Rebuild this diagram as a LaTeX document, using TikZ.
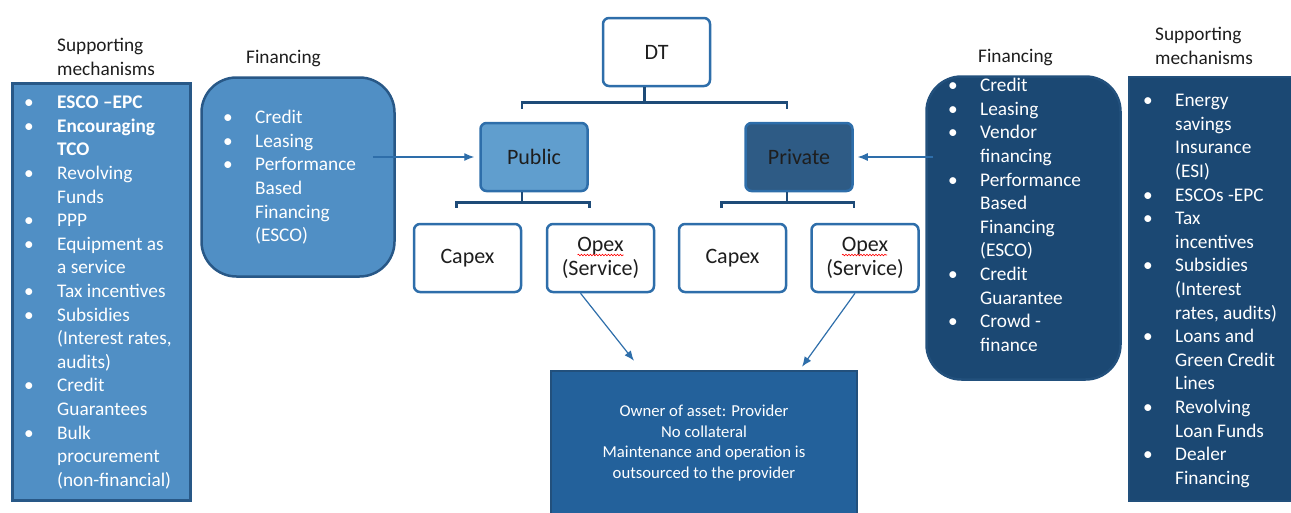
\documentclass[tikz,border=0pt]{standalone}
\usepackage{fontspec}
\setmainfont{Carlito}
\usetikzlibrary{arrows.meta,decorations.pathmorphing}

\definecolor{ink}{RGB}{30,30,30}
\definecolor{midblue}{RGB}{80,143,197}
\definecolor{midline}{RGB}{40,88,135}
\definecolor{pubfill}{RGB}{96,158,206}
\definecolor{privfill}{RGB}{46,91,133}
\definecolor{navy}{RGB}{27,72,115}
\definecolor{navyline}{RGB}{34,80,124}
\definecolor{outfill}{RGB}{35,97,155}
\definecolor{boxline}{RGB}{46,110,170}
\definecolor{treeline}{RGB}{30,75,120}

\newcommand{\lstfont}{\fontsize{19.3}{23.6}\selectfont}

\tikzset{
  box/.style={draw=boxline, line width=2.5pt, rounded corners=6pt, fill=white,
    text=ink, align=center, font=\fontsize{22}{24}\selectfont,
    minimum width=107pt, minimum height=68pt, inner sep=0pt},
  panel/.style={line width=2.5pt, inner sep=0pt},
  tree/.style={draw=treeline, line width=2.8pt},
  link/.style={draw=boxline, line width=1.2pt, -{Latex[length=10pt,width=8pt]}},
  list/.style={text=white, font=\lstfont, anchor=north west, inner sep=0pt},
  head/.style={text=ink, font=\lstfont, anchor=north west, inner sep=0pt},
  squig/.style={draw=red, line width=0.6pt, decorate,
    decoration={snake, amplitude=0.8pt, segment length=3pt}}
}

\begin{document}
\begin{tikzpicture}[x=1pt,y=-1pt]
  \useasboundingbox (0,0) rectangle (1291,512);

  % panels
  \node[panel, fill=midblue, draw=midline, minimum width=178pt, minimum height=417pt] (supL) at (101.5,292) {};
  \node[panel, fill=midblue, draw=midline, rounded corners=35pt, minimum width=193pt, minimum height=199pt] (finL) at (298,177) {};
  \node[panel, fill=navy, draw=navyline, rounded corners=35pt, minimum width=194pt, minimum height=303pt] (finR) at (1023.5,228) {};
  \node[panel, fill=navy, draw=navyline, minimum width=171pt, minimum height=424pt] (supR) at (1214.5,289) {};
  \node[panel, fill=outfill, draw=navyline, minimum width=306pt, minimum height=144pt, text=white, align=center,
    font=\fontsize{16.7}{20.7}\selectfont] (out) at (704,443)
    {Owner of asset: Provider\\No collateral\\Maintenance and operation is\\outsourced to the provider};

  % headings
  \node[head] (supLhead) at (57,35) {\begin{tabular}{@{}l@{}}Supporting\\mechanisms\end{tabular}};
  \node[head] (finLhead) at (246,50) {Financing};
  \node[head] (finRhead) at (978,49) {Financing};
  \node[head] (supRhead) at (1155,24) {\begin{tabular}{@{}l@{}}Supporting\\mechanisms\end{tabular}};

  % lists
  \node[list] (supLtxt) at (24,92) {\begin{tabular}{@{}p{33pt}@{}l@{}}
    \textbullet & \textbf{ESCO –EPC}\\
    \textbullet & \textbf{Encouraging}\\
                & \textbf{TCO}\\
    \textbullet & Revolving\\
                & Funds\\
    \textbullet & PPP\\
    \textbullet & Equipment as\\
                & a service\\
    \textbullet & Tax incentives\\
    \textbullet & Subsidies\\
                & (Interest rates,\\
                & audits)\\
    \textbullet & Credit\\
                & Guarantees\\
    \textbullet & Bulk\\
                & procurement\\
                & (non-financial)
  \end{tabular}};
  \node[list] (finLtxt) at (223,107) {\begin{tabular}{@{}p{32pt}@{}l@{}}
    \textbullet & Credit\\
    \textbullet & Leasing\\
    \textbullet & Performance\\
                & Based\\
                & Financing\\
                & (ESCO)
  \end{tabular}};
  \node[list] (finRtxt) at (948,75) {\begin{tabular}{@{}p{32pt}@{}l@{}}
    \textbullet & Credit\\
    \textbullet & Leasing\\
    \textbullet & Vendor\\
                & financing\\
    \textbullet & Performance\\
                & Based\\
                & Financing\\
                & (ESCO)\\
    \textbullet & Credit\\
                & Guarantee\\
    \textbullet & Crowd -\\
                & finance
  \end{tabular}};
  \node[list] (supRtxt) at (1143,90) {\begin{tabular}{@{}p{32pt}@{}l@{}}
    \textbullet & Energy\\
                & savings\\
                & Insurance\\
                & (ESI)\\
    \textbullet & ESCOs -EPC\\
    \textbullet & Tax\\
                & incentives\\
    \textbullet & Subsidies\\
                & (Interest\\
                & rates, audits)\\
    \textbullet & Loans and\\
                & Green Credit\\
                & Lines\\
    \textbullet & Revolving\\
                & Loan Funds\\
    \textbullet & Dealer\\
                & Financing
  \end{tabular}};

  % tree
  \node[box] (dt) at (656.5,52) {DT};
  \node[box, fill=pubfill] (pub) at (534,157) {Public};
  \node[box, fill=privfill] (priv) at (799,157) {Private};
  \node[box] (cap1) at (467.5,258) {Capex};
  \node[box] (op1) at (600.5,258) {Opex\\(Service)};
  \node[box] (cap2) at (732.5,258) {Capex};
  \node[box] (op2) at (865,258) {Opex\\(Service)};

  \draw[tree] ([xshift=-12pt]dt.south) -- ++(0,15) coordinate (dtfork);
  \draw[tree] ([xshift=-12pt,yshift=13pt]pub.north) |- (dtfork) -| ([xshift=-12pt,yshift=13pt]priv.north);
  \draw[tree] ([xshift=-12pt]pub.south) -- ++(0,10) coordinate (pubfork);
  \draw[tree] ([xshift=-11pt,yshift=15pt]cap1.north) |- (pubfork) -| ([xshift=-11pt,yshift=15pt]op1.north);
  \draw[tree] ([xshift=-12pt]priv.south) -- ++(0,10) coordinate (privfork);
  \draw[tree] ([xshift=-11pt,yshift=15pt]cap2.north) |- (privfork) -| ([xshift=-11pt,yshift=15pt]op2.north);

  \draw[squig] ([shift={(-23pt,3pt)}]op1.center) -- ++(46,0);
  \draw[squig] ([shift={(-23pt,3pt)}]op2.center) -- ++(45,0);

  % links
  \draw[link, shorten >=5pt] ([xshift=-23pt]finL.east |- pub.west) -- (pub.west);
  \draw[link, shorten >=4pt] ([xshift=8pt]finR.west |- priv.east) -- (priv.east);
  \draw[link] ([xshift=-20pt]op1.south) -- ([xshift=-70pt,yshift=9pt]out.north);
  \draw[link] ([xshift=-10pt]op2.south) -- ([xshift=98pt,yshift=3pt]out.north);
\end{tikzpicture}
\end{document}
